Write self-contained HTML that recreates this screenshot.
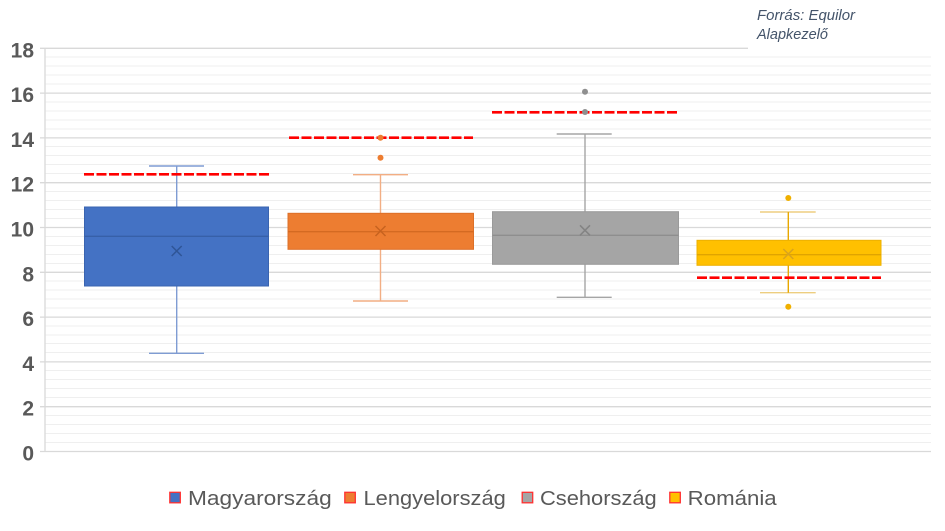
<!DOCTYPE html>
<html>
<head>
<meta charset="utf-8">
<style>
html,body{margin:0;padding:0;background:#fff;}
body{width:945px;height:531px;overflow:hidden;}
svg{display:block;}
</style>
</head>
<body>
<svg width="945" height="531" viewBox="0 0 945 531" xmlns="http://www.w3.org/2000/svg">
<rect x="0" y="0" width="945" height="531" fill="#fff"/>
<!-- minor gridlines -->
<path d="M45 442.5H931M45 433.5H931M45 424.5H931M45 415.5H931
M45 397.5H931M45 388.5H931M45 379.5H931M45 370.5H931
M45 352.5H931M45 343.5H931M45 335H931M45 326H931
M45 308H931M45 299H931M45 290H931M45 281H931
M45 263.5H931M45 254.5H931M45 245.5H931M45 236.5H931
M45 218.5H931M45 209.5H931M45 200.5H931M45 191.5H931
M45 173.5H931M45 164.5H931M45 155.5H931M45 146.5H931
M45 129H931M45 120H931M45 111H931M45 102H931
M45 84H931M45 75H931M45 66H931M45 57H931" stroke="#EFEFEF" stroke-width="1" fill="none"/>
<!-- major gridlines -->
<path d="M40 48.3H931M40 93.1H931M40 137.9H931M40 182.7H931M40 227.5H931M40 272.3H931M40 317.1H931M40 361.9H931M40 406.7H931M40 451.5H931" stroke="#D9D9D9" stroke-width="1.3" fill="none"/>
<!-- y axis -->
<path d="M45 48.3V451.5" stroke="#D9D9D9" stroke-width="1.3"/>
<!-- source box background -->
<rect x="748" y="0" width="197" height="51" fill="#fff"/>
<text x="757" y="20" font-family="Liberation Sans, sans-serif" font-style="italic" font-size="14.5" fill="#44546A" textLength="98" lengthAdjust="spacingAndGlyphs">Forrás: Equilor</text>
<text x="757" y="39" font-family="Liberation Sans, sans-serif" font-style="italic" font-size="14.5" fill="#44546A">Alapkezelő</text>

<!-- y labels -->
<g font-family="Liberation Sans, sans-serif" font-weight="bold" font-size="21" fill="#595959" text-anchor="end">
<text x="34" y="57.3">18</text>
<text x="34" y="102.1">16</text>
<text x="34" y="146.9">14</text>
<text x="34" y="191.7">12</text>
<text x="34" y="236.5">10</text>
<text x="34" y="281.3">8</text>
<text x="34" y="326.1">6</text>
<text x="34" y="370.9">4</text>
<text x="34" y="415.7">2</text>
<text x="34" y="460.3">0</text>
</g>

<!-- Magyarország -->
<g>
<path d="M176.7 166V207M176.7 286V353.3M149 166H204M149 353.3H204" stroke="#7F9CD3" stroke-width="1.4" fill="none"/>
<rect x="84.5" y="207" width="184" height="79" fill="#4472C4" stroke="#3A64B0" stroke-width="1"/>
<path d="M84.5 236.3H268.5" stroke="#3760A8" stroke-width="1.3"/>
<path d="M171.7 246L181.7 256M181.7 246L171.7 256" stroke="#2F5597" stroke-width="1.5"/>
<path d="M84 174.3H269" stroke="#FF0000" stroke-width="2.7" stroke-dasharray="10 2.5"/>
</g>

<!-- Lengyelország -->
<g>
<path d="M380.5 174.7V213.3M380.5 249.3V301M353 174.7H408M353 301H408" stroke="#F2AE84" stroke-width="1.4" fill="none"/>
<rect x="288" y="213.3" width="185.5" height="36" fill="#ED7D31" stroke="#DC7029" stroke-width="1"/>
<path d="M288 231.7H473.5" stroke="#D46A22" stroke-width="1.3"/>
<path d="M375.5 226L385.5 236M385.5 226L375.5 236" stroke="#C7621F" stroke-width="1.5"/>
<path d="M289 137.7H473" stroke="#FF0000" stroke-width="2.7" stroke-dasharray="10 2.5"/>
<circle cx="380.5" cy="157.7" r="3" fill="#ED7D31"/>
<circle cx="380.5" cy="137.7" r="3" fill="#ED7D31"/>
</g>

<!-- Csehország -->
<g>
<path d="M585 134V211.7M585 264.3V297.3M556.7 134H611.7M556.7 297.3H611.7" stroke="#A5A5A5" stroke-width="1.4" fill="none"/>
<rect x="492.5" y="211.7" width="186" height="52.6" fill="#A5A5A5" stroke="#9A9A9A" stroke-width="1"/>
<path d="M492.5 235.3H678.5" stroke="#8E8E8E" stroke-width="1.3"/>
<path d="M580 225.3L590 235.3M590 225.3L580 235.3" stroke="#838383" stroke-width="1.5"/>
<path d="M492 112.3H678" stroke="#FF0000" stroke-width="2.7" stroke-dasharray="10 2.5"/>
<circle cx="585" cy="91.7" r="3" fill="#8F8F8F"/>
<circle cx="585" cy="112" r="3" fill="#8F8F8F"/>
</g>

<!-- Románia -->
<g>
<path d="M760 212H815.7M760 292.7H815.7" stroke="#EDCE80" stroke-width="1.4" fill="none"/>
<path d="M788.3 212V240.3M788.3 265.3V292.7" stroke="#E8A800" stroke-width="1.4" fill="none"/>
<rect x="697" y="240.3" width="184" height="25" fill="#FFC000" stroke="#EDB000" stroke-width="1"/>
<path d="M697 254.7H881" stroke="#E0A400" stroke-width="1.3"/>
<path d="M783.3 249L793.3 259M793.3 249L783.3 259" stroke="#D9A31E" stroke-width="1.5"/>
<path d="M697 277.7H881" stroke="#FF0000" stroke-width="2.7" stroke-dasharray="10 2.5"/>
<circle cx="788.3" cy="198" r="3" fill="#F0B000"/>
<circle cx="788.3" cy="306.7" r="3" fill="#F0B000"/>
</g>

<!-- legend -->
<g font-family="Liberation Sans, sans-serif" font-size="20" fill="#595959">
<rect x="169.8" y="492.3" width="10.5" height="10.5" fill="#4472C4" stroke="#FF3030" stroke-width="1.3"/>
<text x="188" y="505" textLength="143.7" lengthAdjust="spacingAndGlyphs">Magyarország</text>
<rect x="344.8" y="492.3" width="10.5" height="10.5" fill="#ED7D31" stroke="#FF3030" stroke-width="1.3"/>
<text x="363.5" y="505" textLength="142.3" lengthAdjust="spacingAndGlyphs">Lengyelország</text>
<rect x="522.2" y="492.3" width="10.5" height="10.5" fill="#A5A5A5" stroke="#FF3030" stroke-width="1.3"/>
<text x="540" y="505" textLength="116.7" lengthAdjust="spacingAndGlyphs">Csehország</text>
<rect x="669.8" y="492.3" width="10.5" height="10.5" fill="#FFC000" stroke="#FF3030" stroke-width="1.3"/>
<text x="687.7" y="505" textLength="89" lengthAdjust="spacingAndGlyphs">Románia</text>
</g>
</svg>
</body>
</html>
